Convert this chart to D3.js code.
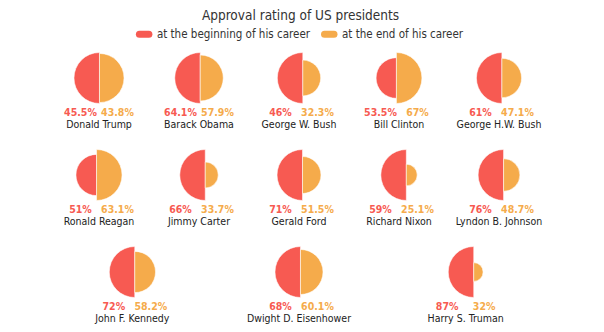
<!DOCTYPE html>
<html><head><meta charset="utf-8">
<script src="https://cdn.jsdelivr.net/npm/d3@7"></script>
<style>body{margin:0;background:#fff} svg{display:block}</style>
</head><body><div id="chart"></div>
<script>
const chartTitle = "Approval rating of US presidents";
const seriesNames = ["at the beginning of his career", "at the end of his career"];
const presidents = ["Donald Trump","Barack Obama","George W. Bush","Bill Clinton","George H.W. Bush",
  "Ronald Reagan","Jimmy Carter","Gerald Ford","Richard Nixon","Lyndon B. Johnson",
  "John F. Kennedy","Dwight D. Eisenhower","Harry S. Truman"];
const beginValues = [45.5, 64.1, 46, 53.5, 61, 51, 66, 71, 59, 76, 72, 68, 87];
const endValues   = [43.8, 57.9, 32.3, 67, 47.1, 63.1, 33.7, 51.5, 25.1, 48.7, 58.2, 60.1, 32];
const rowSizes = [5, 5, 3];

const W = 604, H = 332;
const colors = ["#F75A52", "#F5AB4B"];
const font = "'DejaVu Sans Condensed','DejaVu Sans',sans-serif";
const svg = d3.select("#chart").append("svg").attr("width", W).attr("height", H)
  .style("font-family", font);

svg.append("text").attr("x", 300.5).attr("y", 20).attr("text-anchor", "middle")
  .attr("font-size", 13.5).attr("fill", "#333").text(chartTitle);

// legend
const legend = svg.append("g");
let lx = 0;
seriesNames.forEach((s, i) => {
  const it = legend.append("g").attr("transform", `translate(${lx},0)`);
  it.append("rect").attr("x", 0).attr("y", -7.3).attr("width", 16.5).attr("height", 7)
    .attr("rx", 3.5).attr("fill", colors[i]);
  const t = it.append("text").attr("x", 21).attr("y", 0).attr("font-size", 11.5)
    .attr("fill", "#333").text(s);
  lx += 21 + t.node().getComputedTextLength() + 11;
});
const lw = lx - 11;
legend.attr("transform", `translate(${299.5 - lw / 2},38)`);

const data = presidents.map((name, i) => ({ name, begin: beginValues[i], end: endValues[i] }));
let idx = 0;
const rows = rowSizes.map(n => { const r = data.slice(idx, idx + n); idx += n; return r; });
const yRow = d3.scalePoint().domain(d3.range(rows.length)).range([78, 272]);
const maxR = 25.5;
const arc = d3.arc().innerRadius(0);

rows.forEach((row, ri) => {
  const x = d3.scaleBand().domain(d3.range(row.length)).range([49, 549]);
  row.forEach((d, ci) => {
    const r = d3.scaleLinear().domain([0, Math.max(d.begin, d.end)]).range([0, maxR]);
    const rL = r(d.begin), rR = r(d.end);
    const m = x(ci) + x.bandwidth() / 2;
    const cy = yRow(ri);
    const g = svg.append("g").attr("transform", `translate(${m + (rL - rR) / 2},${cy})`);
    g.append("path").attr("d", arc({ outerRadius: rL, startAngle: Math.PI, endAngle: 2 * Math.PI }))
      .attr("fill", colors[0]).attr("stroke", "#fff").attr("stroke-width", 0.8).attr("stroke-opacity", 0.7);
    g.append("path").attr("d", arc({ outerRadius: rR, startAngle: 0, endAngle: Math.PI }))
      .attr("fill", colors[1]).attr("stroke", "#fff").attr("stroke-width", 0.8).attr("stroke-opacity", 0.7);
    const ly = cy + maxR + 12.5;
    svg.append("text").attr("x", m - 18.5).attr("y", ly).attr("text-anchor", "middle")
      .attr("font-size", 10.5).attr("font-weight", "bold").attr("fill", colors[0]).text(d.begin + "%");
    svg.append("text").attr("x", m + 18.5).attr("y", ly).attr("text-anchor", "middle")
      .attr("font-size", 10.5).attr("font-weight", "bold").attr("fill", colors[1]).text(d.end + "%");
    svg.append("text").attr("x", m).attr("y", ly + 12.3).attr("text-anchor", "middle")
      .attr("font-size", 10.5).attr("fill", "#222").text(d.name);
  });
});
</script></body></html>
